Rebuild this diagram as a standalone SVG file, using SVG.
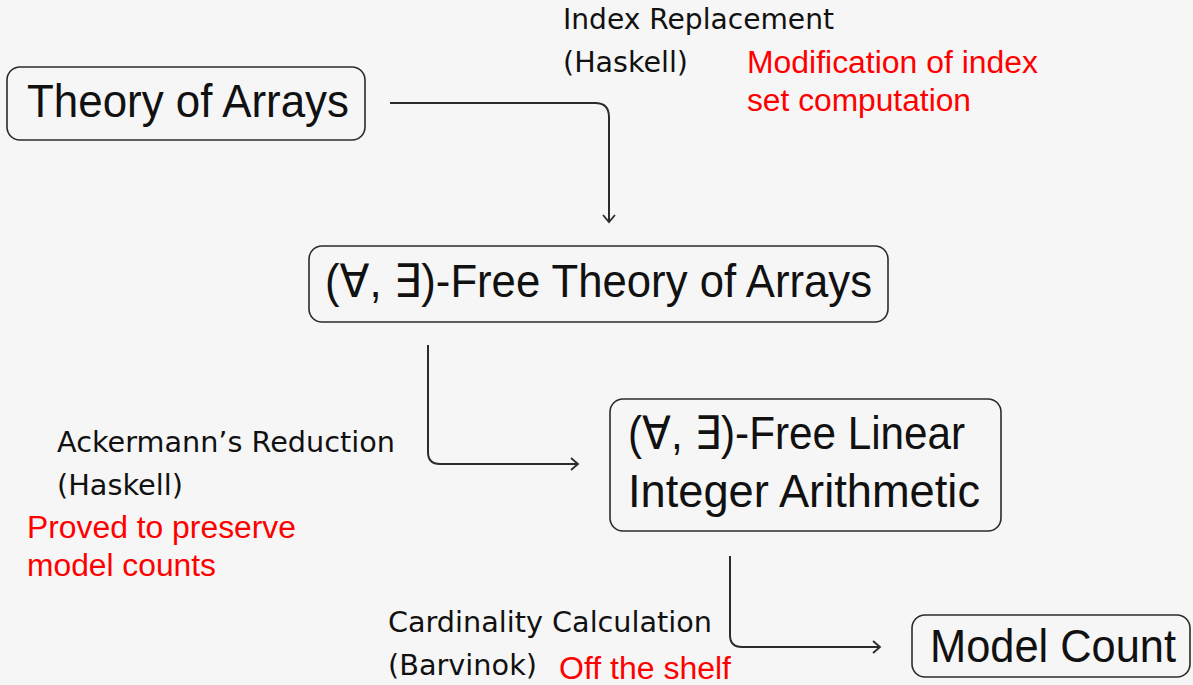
<svg xmlns="http://www.w3.org/2000/svg" width="1193" height="685" viewBox="0 0 1193 685">
<style>
.box{fill:none;stroke:#2b2b2b;stroke-width:1.6}
.nt{font-family:"Liberation Sans","DejaVu Sans",sans-serif;font-size:46px;fill:#111}
.lb{font-family:"DejaVu Sans","Liberation Sans",sans-serif;font-size:28px;fill:#111}
.rd{font-family:"Liberation Sans",Arial,sans-serif;font-size:31px;fill:#ff0000}
.cn{fill:none;stroke:#2b2b2b;stroke-width:2}
</style>
<defs>
<marker id="arr" markerUnits="userSpaceOnUse" markerWidth="16" markerHeight="16" viewBox="-10 -8 12 16" refX="0" refY="0" orient="auto">
<path d="M-7,-6 L0,0 L-7,6" fill="none" stroke="#2b2b2b" stroke-width="1.8"/>
</marker>
</defs>
<rect width="1193" height="685" fill="#f6f6f6"/>
<g id="connectors">
<path class="cn" d="M390,103 H595 Q609,103 609,117 V222" marker-end="url(#arr)"/>
<path class="cn" d="M428,345 V452 Q428,464 440,464 H578" marker-end="url(#arr)"/>
<path class="cn" d="M730,556 V635 Q730,647 742,647 H880" marker-end="url(#arr)"/>
</g>
<g id="theory-of-arrays">
<rect class="box" x="7" y="67" width="358" height="73" rx="13"/>
<text class="nt" x="27" y="117" textLength="322" lengthAdjust="spacingAndGlyphs">Theory of Arrays</text>
</g>
<g id="free-theory-of-arrays">
<rect class="box" x="309" y="246" width="579" height="76" rx="13"/>
<text class="nt" x="325" y="297" textLength="547" lengthAdjust="spacingAndGlyphs">(∀, ∃)-Free Theory of Arrays</text>
</g>
<g id="free-lia">
<rect class="box" x="610" y="399" width="391" height="132" rx="13"/>
<text class="nt" x="628" y="449" textLength="337" lengthAdjust="spacingAndGlyphs">(∀, ∃)-Free Linear</text>
<text class="nt" x="628" y="507" textLength="352" lengthAdjust="spacingAndGlyphs">Integer Arithmetic</text>
</g>
<g id="model-count">
<rect class="box" x="912" y="615" width="278" height="62" rx="13"/>
<text class="nt" x="930" y="662" textLength="246" lengthAdjust="spacingAndGlyphs">Model Count</text>
</g>
<g id="labels">
<text class="lb" x="563" y="29" textLength="271" lengthAdjust="spacingAndGlyphs">Index Replacement</text>
<text class="lb" x="563" y="72" textLength="125" lengthAdjust="spacingAndGlyphs">(Haskell)</text>
<text class="rd" x="747" y="73" textLength="291" lengthAdjust="spacingAndGlyphs">Modification of index</text>
<text class="rd" x="747" y="111" textLength="224" lengthAdjust="spacingAndGlyphs">set computation</text>
<text class="lb" x="57" y="452" textLength="338" lengthAdjust="spacingAndGlyphs">Ackermann’s Reduction</text>
<text class="lb" x="57" y="495" textLength="126" lengthAdjust="spacingAndGlyphs">(Haskell)</text>
<text class="rd" x="27" y="538" textLength="269" lengthAdjust="spacingAndGlyphs">Proved to preserve</text>
<text class="rd" x="27" y="576" textLength="189" lengthAdjust="spacingAndGlyphs">model counts</text>
<text class="lb" x="388" y="632" textLength="324" lengthAdjust="spacingAndGlyphs">Cardinality Calculation</text>
<text class="lb" x="388" y="675" textLength="149" lengthAdjust="spacingAndGlyphs">(Barvinok)</text>
<text class="rd" x="559" y="679" textLength="172" lengthAdjust="spacingAndGlyphs">Off the shelf</text>
</g>
</svg>
